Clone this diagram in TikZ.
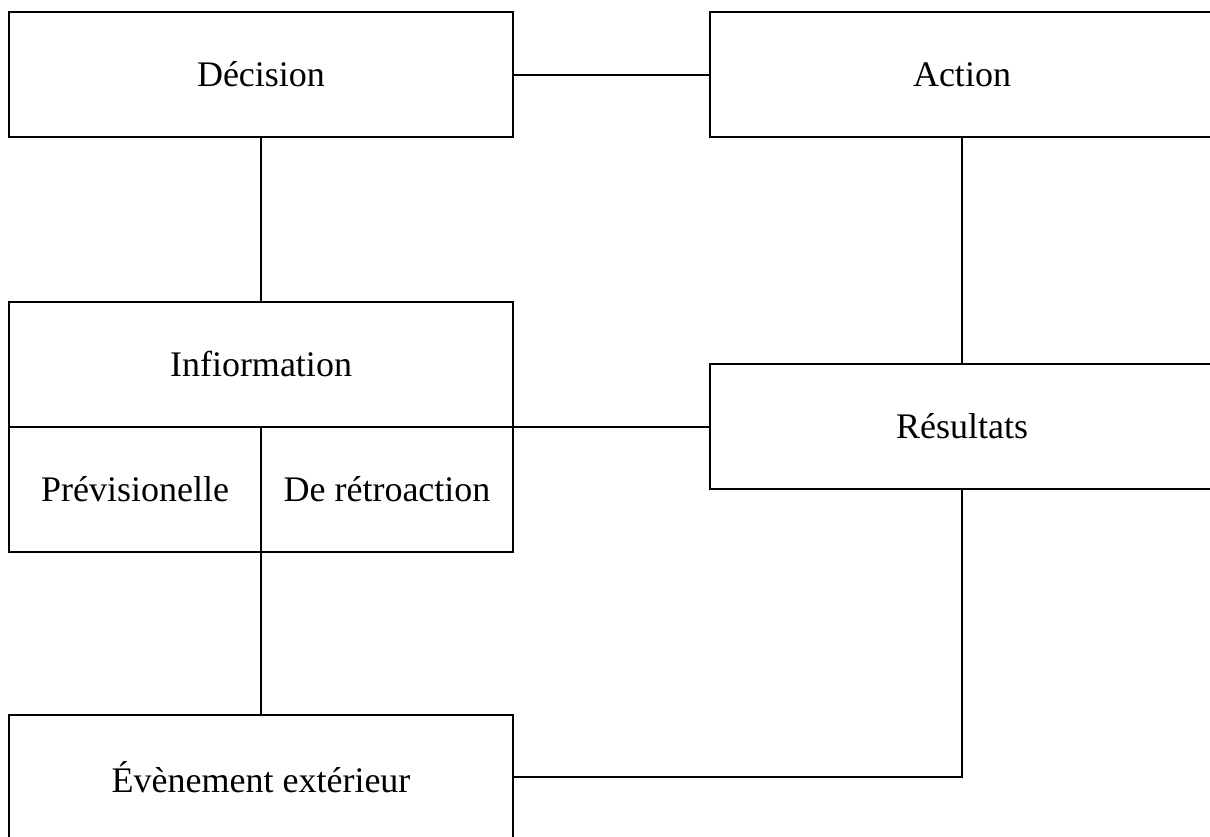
\documentclass[tikz,border=0pt]{standalone}
\usepackage{fontspec}
\setmainfont{Liberation Serif}
\usetikzlibrary{positioning}

\tikzset{
  box/.style={draw, line width=1.5pt, inner sep=0pt, outer sep=0pt,
    minimum width=378pt, minimum height=93.75pt},
  cell/.style={box, minimum width=189pt},
  link/.style={line width=1.5pt}
}

\begin{document}
\begin{tikzpicture}[x=0.75pt, y=-0.75pt, font=\fontsize{27}{32}\selectfont]
    \useasboundingbox (0,0) rectangle (1210,836);
    \clip (0,0) rectangle (1210,836);

    % Left column
    \node[box] (dec) at (261,74.5) {Décision};
    \node[box] (info) at (261,364) {Infiormation};
    \node[cell] (prev) at (135,489.5) {Prévisionelle};
    \node[cell] (retro) at (387,489.5) {De rétroaction};
    \node[box] (evt) at (261,777) {Évènement extérieur};

    % Right column (cut by the frame)
    \node[box] (act) at (962,74.5) {Action};
    \node[box] (res) at (962,426.5) {Résultats};

    % Links
    \draw[link] (dec.east) -- (act.west);
    \draw[link] (dec.south) -- (info.north);
    \draw[link] (act.south) -- (res.north);
    \draw[link] (info.south east) -- (res.west);
    \draw[link] (prev.south east) -- (evt.north);
    \draw[link] (evt.east) -| (res.south);

\end{tikzpicture}
\end{document}
